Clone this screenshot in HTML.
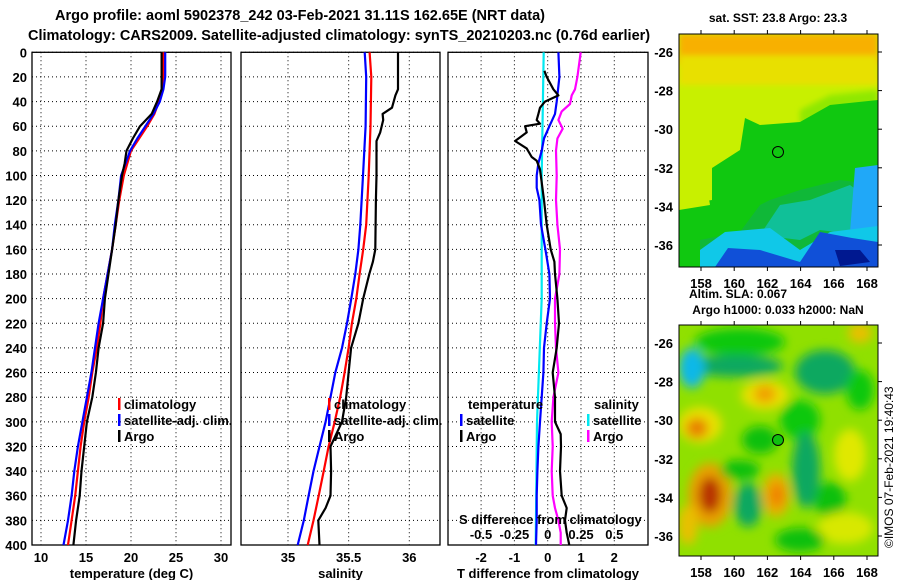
<!DOCTYPE html>
<html><head><meta charset="utf-8">
<style>
body{margin:0;background:#fff;}
svg{display:block;font-family:"Liberation Sans",sans-serif;font-weight:bold;}
</style></head>
<body>
<svg id="chart" width="900" height="580" viewBox="0 0 900 580" xmlns="http://www.w3.org/2000/svg">
<defs>
<filter id="blur1" x="-50%" y="-50%" width="200%" height="200%"><feGaussianBlur stdDeviation="5"/></filter>
<filter id="blur2" x="-50%" y="-50%" width="200%" height="200%"><feGaussianBlur stdDeviation="3"/></filter>
<clipPath id="clipMap1"><rect x="679" y="34" width="199" height="233"/></clipPath>
<clipPath id="clipMap2"><rect x="679" y="325" width="199" height="231"/></clipPath>
</defs>
<rect width="900" height="580" fill="#fff"/>
<text x="55" y="20" font-size="14.5">Argo profile: aoml 5902378_242 03-Feb-2021 31.11S 162.65E (NRT data)</text>
<text x="28" y="40" font-size="14.5">Climatology: CARS2009. Satellite-adjusted climatology: synTS_20210203.nc (0.76d earlier)</text>

<g id="p1"></g>
<g id="p2"></g>
<g id="p3"></g>

<!-- SST map -->
<g clip-path="url(#clipMap1)">
<rect x="679" y="34" width="199" height="233" fill="#c8f000"/>
<rect x="679" y="34" width="199" height="30" fill="#f8b000" filter="url(#blur2)"/>
<rect x="679" y="55" width="199" height="30" fill="#e8e000" filter="url(#blur2)"/>
<polygon fill="#90e800" points="800,110 830,95 878,90 878,140 800,140" filter="url(#blur2)"/>
<polygon fill="#10c810" points="740,150 745,118 760,125 800,122 830,105 878,100 878,267 679,267 679,205 712,200 712,168"/>
<polygon fill="#10b838" points="770,200 800,190 840,180 878,185 878,267 700,267 700,240 740,232 760,205"/>
<polygon fill="#10c098" points="780,205 810,200 850,185 870,200 860,235 820,230 800,240 760,235"/>
<polygon fill="#20a8f8" points="855,168 878,165 878,235 850,232"/>
<polygon fill="#10c8e8" points="700,250 725,232 770,228 800,250 830,232 878,226 878,267 700,267"/>
<polygon fill="#1050d8" points="715,267 728,248 760,250 800,262 820,232 852,238 878,242 878,267"/>
<polygon fill="#001890" points="835,250 860,250 870,262 840,266"/>
<polygon fill="#c8f000" points="679,170 705,175 710,205 679,210"/>
</g>
<rect x="679" y="34" width="199" height="233" fill="none" stroke="#000" stroke-width="1"/>
<circle cx="778" cy="152" r="5.5" fill="none" stroke="#000" stroke-width="1"/>
<text x="778" y="22" font-size="12" text-anchor="middle">sat. SST: 23.8 Argo: 23.3</text>

<!-- SLA map -->
<g clip-path="url(#clipMap2)">
<rect x="679" y="325" width="199" height="231" fill="#90e000"/>
<g filter="url(#blur1)">
<ellipse cx="740" cy="342" rx="45" ry="14" fill="#10c810"/>
<ellipse cx="735" cy="366" rx="48" ry="11" fill="#10a860"/>
<ellipse cx="692" cy="368" rx="13" ry="20" fill="#10b8e8"/>
<ellipse cx="825" cy="372" rx="30" ry="22" fill="#10a860"/>
<ellipse cx="860" cy="390" rx="14" ry="20" fill="#10c810"/>
<ellipse cx="800" cy="420" rx="20" ry="20" fill="#10c810"/>
<ellipse cx="765" cy="395" rx="24" ry="15" fill="#e8e000"/>
<ellipse cx="765" cy="394" rx="11" ry="9" fill="#f0a000"/>
<ellipse cx="700" cy="425" rx="22" ry="18" fill="#e8e000"/>
<ellipse cx="697" cy="428" rx="11" ry="10" fill="#e88000"/>
<ellipse cx="760" cy="440" rx="18" ry="14" fill="#10c010"/>
<ellipse cx="806" cy="470" rx="14" ry="38" fill="#10a860"/>
<ellipse cx="850" cy="455" rx="16" ry="26" fill="#e0e800"/>
<ellipse cx="830" cy="500" rx="16" ry="18" fill="#10c010"/>
<ellipse cx="710" cy="495" rx="22" ry="32" fill="#e8a000"/>
<ellipse cx="710" cy="495" rx="11" ry="18" fill="#b83000"/>
<ellipse cx="776" cy="495" rx="14" ry="22" fill="#e8b000"/>
<ellipse cx="777" cy="495" rx="7" ry="12" fill="#f08000"/>
<ellipse cx="748" cy="505" rx="14" ry="22" fill="#10a860"/>
<ellipse cx="740" cy="470" rx="20" ry="10" fill="#10c010"/>
<ellipse cx="845" cy="528" rx="28" ry="16" fill="#d8e800"/>
<ellipse cx="860" cy="333" rx="12" ry="10" fill="#e8c000"/>
<ellipse cx="800" cy="540" rx="25" ry="12" fill="#10c010"/>
<ellipse cx="688" cy="525" rx="10" ry="20" fill="#e8c000"/>
</g>
</g>
<rect x="679" y="325" width="199" height="231" fill="none" stroke="#000" stroke-width="1"/>
<circle cx="778" cy="440" r="5.5" fill="#10c010" stroke="#000" stroke-width="1"/>
<text x="738" y="298" font-size="12" text-anchor="middle">Altim. SLA: 0.067</text>
<text x="778" y="314" font-size="12" text-anchor="middle">Argo h1000: 0.033 h2000: NaN</text>
<text font-size="12" font-weight="normal" transform="translate(893,548) rotate(-90)">©IMOS 07-Feb-2021 19:40:43</text>
<g id="mapaxes"></g>

<script>
// ---- data ----
const tDepth = [0,20,30,40,50,60,70,80,90,100,120,140,160,180,200,220,240,260,280,300,320,340,360,380,400];
const tempArgo = [23.4,23.4,23.4,22.9,22.3,21.0,20.2,19.5,19.3,19.0,18.6,18.3,17.9,17.5,17.1,16.9,16.4,16.1,15.7,15.1,14.8,14.5,14.3,13.9,13.6];
const tempClim = [23.6,23.6,23.4,23.1,22.6,21.8,20.9,20.0,19.6,19.2,18.7,18.3,17.9,17.4,16.9,16.6,16.2,15.7,15.3,14.8,14.4,14.1,13.8,13.4,13.0];
const tempSat = [23.8,23.8,23.6,23.2,22.5,21.6,20.7,19.9,19.4,18.9,18.6,18.2,17.9,17.4,16.9,16.4,16.0,15.6,15.1,14.6,14.1,13.7,13.4,13.0,12.5];

const sArgoDepth = [0,30,35,45,50,55,65,72,100,120,160,170,180,200,220,240,260,280,300,320,340,360,370,380,400];
const salArgo = [35.907,35.907,35.885,35.857,35.78,35.785,35.76,35.73,35.73,35.725,35.72,35.70,35.67,35.62,35.58,35.52,35.50,35.48,35.445,35.35,35.355,35.35,35.31,35.25,35.26];
const sClimDepth = [0,20,60,100,140,160,180,200,220,240,260,280,300,320,340,360,380,400];
const salClim = [35.673,35.687,35.68,35.665,35.645,35.62,35.59,35.563,35.527,35.50,35.467,35.43,35.385,35.335,35.294,35.253,35.21,35.162];
const salSat = [35.632,35.645,35.64,35.618,35.596,35.58,35.555,35.522,35.486,35.445,35.39,35.35,35.31,35.26,35.21,35.17,35.13,35.08];

const dtSatDepth = [0,20,40,50,60,70,80,90,100,110,120,140,160,180,200,220,240,260,280,300,320,340,360,380,400];
const dtSat = [0.32,0.35,0.27,0.22,0.05,-0.11,-0.18,-0.28,-0.33,-0.33,-0.25,-0.2,-0.07,0.05,0.07,-0.03,-0.11,-0.13,-0.18,-0.23,-0.28,-0.31,-0.33,-0.33,-0.35];
const dtArgoDepth = [15,20,30,35,40,45,50,55,58,60,65,68,72,78,85,88,95,120,140,160,170,180,200,220,240,260,280,300,310,320,340,360,370,380,390,400];
const dtArgo = [-0.1,-0.03,0.17,0.32,-0.08,-0.23,-0.28,-0.33,-0.23,-0.68,-0.63,-0.78,-0.98,-0.63,-0.48,-0.33,-0.23,-0.11,-0.03,0.09,0.2,0.22,0.29,0.34,0.27,0.15,0.22,0.22,0.39,0.4,0.37,0.42,0.57,0.52,0.57,0.65];
const dsSatDepth = [0,100,200,300,400];
const dsSat = [-0.03,-0.045,-0.045,-0.08,-0.09];
const dsArgoDepth = [0,20,30,35,42,48,55,62,70,80,100,120,140,160,180,200,220,240,260,280,300,320,340,360,370,380,390,400];
const dsArgo = [0.2475,0.2225,0.205,0.18,0.1675,0.105,0.08,0.1125,0.0725,0.0625,0.0675,0.0625,0.0725,0.0925,0.0875,0.055,0.055,0.0625,0.08,0.0425,0.03,0.0375,0.03,0.0375,0.055,0.08,0.0975,0.0975];

const depthTicks = [0,20,40,60,80,100,120,140,160,180,200,220,240,260,280,300,320,340,360,380,400];
const tempTicks = [10,15,20,25,30];
const salTicks = [35,35.5,36];
const dtTicks = [-2,-1,0,1,2];
const dsTicks = [-0.5,-0.25,0,0.25,0.5];
const dsTickLabels = ["-0.5","-0.25","0","0.25","0.5"];
const lonTicks = [158,160,162,164,166,168];
const latTicks = [-26,-28,-30,-32,-34,-36];

// ---- scales ----
const Y0=52.3, Y1=545;
const py = d => Y0 + d*(Y1-Y0)/400;
const xT = t => 41 + (t-10)*9;
const xS = s => 288 + (s-35)*121.3;
const xDT = v => 547.7 + v*33.3;
const xDS = v => 547.7 + v*133.3;
const NS="http://www.w3.org/2000/svg";
function mk(parent, tag, attrs){const e=document.createElementNS(NS,tag);for(const k in attrs)e.setAttribute(k,attrs[k]);parent.appendChild(e);return e;}

function panel(g, x0, x1, xs, vticks, labels, xlabel, showDepth){
  depthTicks.forEach(d=>{
    const l=mk(g,'line',{x1:x0,x2:x1,y1:py(d),y2:py(d),stroke:'#000','stroke-width':1,'stroke-dasharray':'1,3'});
    
    
    if(showDepth){
      const t=mk(g,'text',{x:27,y:py(d)+5,'font-size':13,'text-anchor':'end'});
      t.textContent=d;
      
      
    }
  });
  vticks.forEach((v,i)=>{
    const l=mk(g,'line',{x1:xs(v),x2:xs(v),y1:Y0,y2:Y1,stroke:'#000','stroke-width':1,'stroke-dasharray':'1,3'});
    
    
    const t=mk(g,'text',{x:xs(v),y:562,'font-size':13,'text-anchor':'middle'});
    t.textContent=labels[i];
    
    
  });
  const r=mk(g,'rect',{x:x0,y:Y0,width:x1-x0,height:Y1-Y0,fill:'none',stroke:'#000','stroke-width':1.3});
  
  
  const xl=mk(g,'text',{x:(x0+x1)/2,y:578,'font-size':13,'text-anchor':'middle'});
  xl.textContent=xlabel;
  
  
}
function line(g, depths, vals, xs, color, name){
  const pts=depths.map((d,i)=>xs(vals[i]).toFixed(1)+','+py(d).toFixed(1)).join(' ');
  const p=mk(g,'polyline',{points:pts,fill:'none',stroke:color,'stroke-width':2.2,'stroke-linejoin':'round'});
  
  
}
function legend(g,x,y,color,label){
  const m=mk(g,'rect',{x:x,y:y-11,width:2.5,height:12,fill:color});
  
  
  const t=mk(g,'text',{x:x+6,y:y,'font-size':13});
  t.textContent=label;
  
  
}

const p1=document.getElementById('p1'), p2=document.getElementById('p2'), p3=document.getElementById('p3');
panel(p1,32,231,xT,tempTicks,tempTicks.map(String),'temperature (deg C)',true);
line(p1,tDepth,tempClim,xT,'#f00','temp-climatology-line');
line(p1,tDepth,tempSat,xT,'#00f','temp-satellite-line');
line(p1,tDepth,tempArgo,xT,'#000','temp-argo-line');
legend(p1,118,409,'#f00','climatology');
legend(p1,118,425,'#00f','satellite-adj. clim.');
legend(p1,118,441,'#000','Argo');

panel(p2,241,440,xS,salTicks,['35','35.5','36'],'salinity',false);
line(p2,sClimDepth,salClim,xS,'#f00','sal-climatology-line');
line(p2,sClimDepth,salSat,xS,'#00f','sal-satellite-line');
line(p2,sArgoDepth,salArgo,xS,'#000','sal-argo-line');
legend(p2,328,409,'#f00','climatology');
legend(p2,328,425,'#00f','satellite-adj. clim.');
legend(p2,328,441,'#000','Argo');

panel(p3,448,648,xDT,dtTicks,dtTicks.map(String),'T difference from climatology',false);
line(p3,dsSatDepth,dsSat,xDS,'#00e8f0','sal-diff-satellite-line');
line(p3,dsArgoDepth,dsArgo,xDS,'#f0f','sal-diff-argo-line');
line(p3,dtSatDepth,dtSat,xDT,'#00f','temp-diff-satellite-line');
line(p3,dtArgoDepth,dtArgo,xDT,'#000','temp-diff-argo-line');
let tt=mk(p3,'text',{x:468,y:409,'font-size':13});tt.textContent='temperature';


let st=mk(p3,'text',{x:594,y:409,'font-size':13});st.textContent='salinity';


legend(p3,460,425,'#00f','satellite');
legend(p3,460,441,'#000','Argo');
legend(p3,587,425,'#00e8f0','satellite');
legend(p3,587,441,'#f0f','Argo');
let sl=mk(p3,'text',{x:459,y:524,'font-size':13});sl.textContent='S difference from climatology';


dsTicks.forEach((v,i)=>{
  const t=mk(p3,'text',{x:xDS(v),y:539,'font-size':13,'text-anchor':'middle'});
  t.textContent=dsTickLabels[i];
  
  
});

// map axes
const ma=document.getElementById('mapaxes');
const lonX = lon => 701 + (lon-158)*16.6;
function mapAxes(top,bottom,lat26y,lat36y,labY){
  const latY = lat => lat26y + (-26-lat)*(lat36y-lat26y)/10;
  lonTicks.forEach(lon=>{
    mk(ma,'line',{x1:lonX(lon),x2:lonX(lon),y1:top-4,y2:top,stroke:'#000'});
    mk(ma,'line',{x1:lonX(lon),x2:lonX(lon),y1:bottom,y2:bottom+4,stroke:'#000'});
    const t=mk(ma,'text',{x:lonX(lon),y:labY,'font-size':13,'text-anchor':'middle'});
    t.textContent=lon;
    
    
  });
  latTicks.forEach(lat=>{
    mk(ma,'line',{x1:878,x2:882,y1:latY(lat),y2:latY(lat),stroke:'#000'});
    const t=mk(ma,'text',{x:673,y:latY(lat)+5,'font-size':13,'text-anchor':'end'});
    t.textContent=lat;
    
    
  });
}
mapAxes(34,267,52,245,288);
mapAxes(325,556,343,536,577);
</script>
</svg>
</body></html>
